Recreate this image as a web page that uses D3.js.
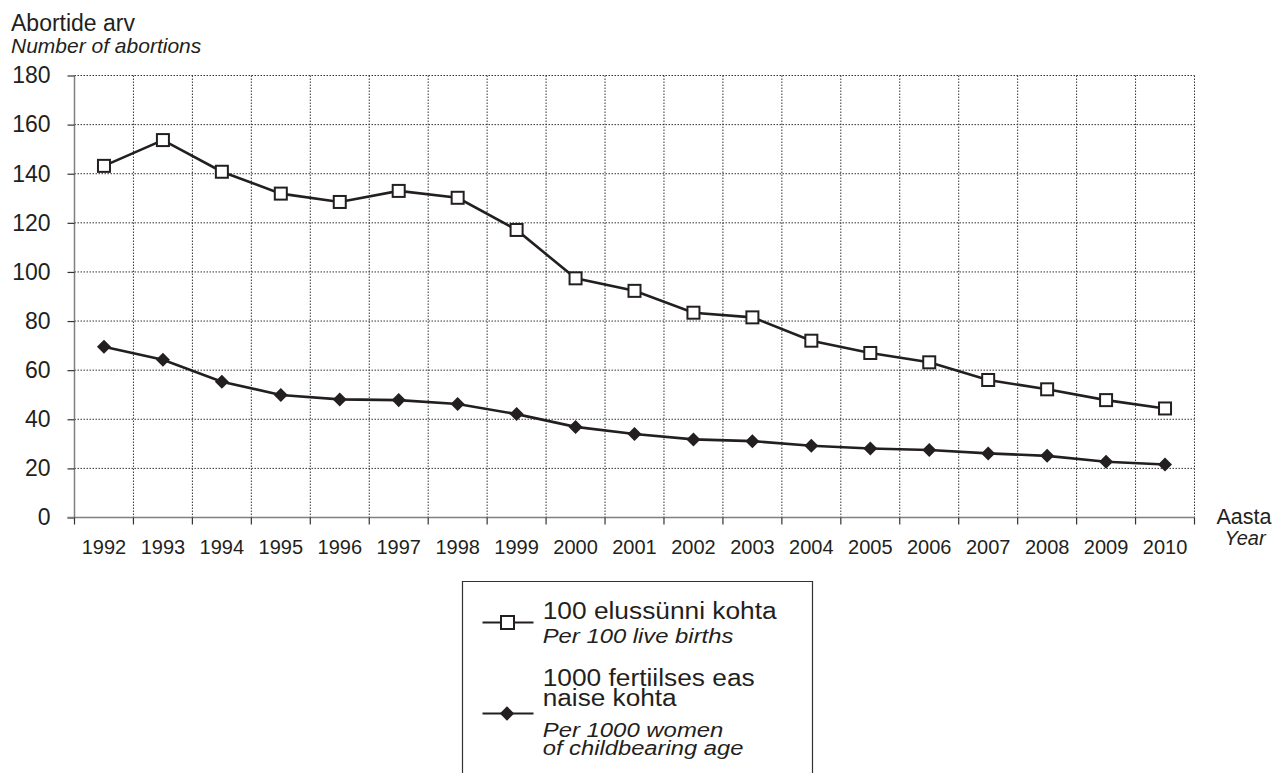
<!DOCTYPE html>
<html>
<head>
<meta charset="utf-8">
<script src="https://cdn.jsdelivr.net/npm/d3@7"></script>
<style>
  html, body { margin: 0; padding: 0; background: #fff; }
  svg { display: block; font-family: "Liberation Sans", Arial, Helvetica, sans-serif; }
</style>
</head>
<body>
<svg id="chart" width="1274" height="773"></svg>
<script>
const years = ["1992","1993","1994","1995","1996","1997","1998","1999","2000","2001","2002","2003","2004","2005","2006","2007","2008","2009","2010"];
const perLiveBirths = [143.2,153.7,140.8,131.9,128.5,133.0,130.2,117.1,97.4,92.3,83.4,81.5,72.0,67.0,63.2,56.0,52.2,47.8,44.4];
const perWomen = [69.5,64.2,55.3,49.9,48.1,47.8,46.2,42.1,36.9,34.0,31.8,31.1,29.2,28.1,27.5,26.1,25.1,22.7,21.6];
const yTicks = [0,20,40,60,80,100,120,140,160,180];
const yTitle = ["Abortide arv", "Number of abortions"];
const xTitle = ["Aasta", "Year"];
const legendItems = [
  { lines: ["100 elussünni kohta"], italic: ["Per 100 live births"], symbol: "square" },
  { lines: ["1000 fertiilses eas", "naise kohta"], italic: ["Per 1000 women", "of childbearing age"], symbol: "diamond" }
];

(function () {
const svg = d3.select("#chart");
const pL = 74.5, pR = 1194.5, pT = 75.5, pB = 517.5;
const ink = "#231f20";

const x = d3.scaleBand().domain(years).range([pL, pR]).padding(0);
const y = d3.scaleLinear().domain([0, 180]).range([pB, pT]);

// horizontal gridlines
svg.append("g").selectAll("line").data(yTicks.filter(d => d > 0)).join("line")
  .attr("x1", pL).attr("x2", pR)
  .attr("y1", d => y(d)).attr("y2", d => y(d))
  .attr("stroke", "#333").attr("stroke-width", 1).attr("stroke-dasharray", "1.5,1.5");

// vertical gridlines at band boundaries
const bounds = years.slice(1).map(d => x(d)).concat([pR]);
svg.append("g").selectAll("line").data(bounds).join("line")
  .attr("x1", d => d).attr("x2", d => d)
  .attr("y1", pT).attr("y2", pB)
  .attr("stroke", "#333").attr("stroke-width", 1).attr("stroke-dasharray", "1.5,1.5");

// Y axis
const yAxis = svg.append("g").attr("transform", `translate(${pL},0)`)
  .call(d3.axisLeft(y).tickValues(yTicks).tickSize(7).tickPadding(17));
yAxis.select(".domain").attr("stroke", "#7f7f7f").attr("stroke-width", 1.5).attr("d", `M0,${pT}V${pB}`);
yAxis.selectAll(".tick line").attr("stroke", "#333").attr("stroke-width", 1.2);
yAxis.selectAll(".tick text").attr("font-size", 23).attr("fill", ink)
  .attr("font-family", "Liberation Sans, Arial, sans-serif");

// X axis
const xAxis = svg.append("g").attr("transform", `translate(0,${pB})`)
  .call(d3.axisBottom(x).tickSize(0).tickPadding(22));
xAxis.select(".domain").attr("stroke", "#7f7f7f").attr("stroke-width", 1.5).attr("d", `M${pL - 7},0H${pR}`);
xAxis.selectAll(".tick text").attr("font-size", 20).attr("fill", ink)
  .attr("font-family", "Liberation Sans, Arial, sans-serif");
svg.append("g").selectAll("line").data([pL].concat(bounds)).join("line")
  .attr("x1", d => d).attr("x2", d => d).attr("y1", pB).attr("y2", pB + 7)
  .attr("stroke", "#333").attr("stroke-width", 1.2);

// Axis titles
svg.append("text").attr("x", 11).attr("y", 31).attr("font-size", 23).attr("fill", ink).text(yTitle[0]);
svg.append("text").attr("x", 11).attr("y", 53).attr("font-size", 21).attr("font-style", "italic").attr("fill", ink).text(yTitle[1]);
svg.append("text").attr("x", 1244).attr("y", 524).attr("text-anchor", "middle").attr("font-size", 21.5).attr("fill", ink).text(xTitle[0]);
svg.append("text").attr("x", 1245).attr("y", 545).attr("text-anchor", "middle").attr("font-size", 20).attr("font-style", "italic").attr("fill", ink).text(xTitle[1]);

// Lines
const cx = d => x(d) + x.bandwidth() / 2;
const line = d3.line().x(d => cx(d[0])).y(d => y(d[1]));
const s1 = years.map((d, i) => [d, perLiveBirths[i]]);
const s2 = years.map((d, i) => [d, perWomen[i]]);

svg.append("path").datum(s1).attr("d", line).attr("fill", "none").attr("stroke", ink).attr("stroke-width", 2.6);
svg.append("path").datum(s2).attr("d", line).attr("fill", "none").attr("stroke", ink).attr("stroke-width", 2.6);

const sq = 12;
svg.append("g").selectAll("rect").data(s1).join("rect")
  .attr("x", d => cx(d[0]) - sq / 2).attr("y", d => y(d[1]) - sq / 2)
  .attr("width", sq).attr("height", sq)
  .attr("fill", "#fff").attr("stroke", ink).attr("stroke-width", 2);

const dia = d3.symbol().type(d3.symbolDiamond2).size(125);
svg.append("g").selectAll("path").data(s2).join("path")
  .attr("d", dia).attr("transform", d => `translate(${cx(d[0])},${y(d[1])})`)
  .attr("fill", ink);

// Legend
const lg = svg.append("g");
lg.append("path").attr("d", "M462.5,790V581.5H812.5V790").attr("fill", "none").attr("stroke", "#333").attr("stroke-width", 1.2);

lg.append("line").attr("x1", 482.5).attr("x2", 533.5).attr("y1", 622.5).attr("y2", 622.5).attr("stroke", ink).attr("stroke-width", 2);
lg.append("rect").attr("x", 501).attr("y", 616).attr("width", 13).attr("height", 13).attr("fill", "#fff").attr("stroke", ink).attr("stroke-width", 2);
lg.append("line").attr("x1", 482.5).attr("x2", 533.5).attr("y1", 713.5).attr("y2", 713.5).attr("stroke", ink).attr("stroke-width", 2);
lg.append("path").attr("d", d3.symbol().type(d3.symbolDiamond2).size(130)).attr("transform", "translate(507,713.5)").attr("fill", ink);

const legendText = [
  { t: legendItems[0].lines[0], y: 619.3, w: 234, it: false },
  { t: legendItems[0].italic[0], y: 643.3, w: 190.7, it: true },
  { t: legendItems[1].lines[0], y: 686, w: 212, it: false },
  { t: legendItems[1].lines[1], y: 706, w: 134, it: false },
  { t: legendItems[1].italic[0], y: 736.7, w: 180.7, it: true },
  { t: legendItems[1].italic[1], y: 755, w: 200.7, it: true }
];
lg.selectAll("text.lt").data(legendText).join("text").attr("class", "lt")
  .attr("x", 542.7).attr("y", d => d.y)
  .attr("font-size", d => d.it ? 20.5 : 23)
  .attr("font-style", d => d.it ? "italic" : "normal")
  .attr("fill", ink)
  .attr("textLength", d => d.w).attr("lengthAdjust", "spacingAndGlyphs")
  .text(d => d.t);
})();
</script>
</body>
</html>
